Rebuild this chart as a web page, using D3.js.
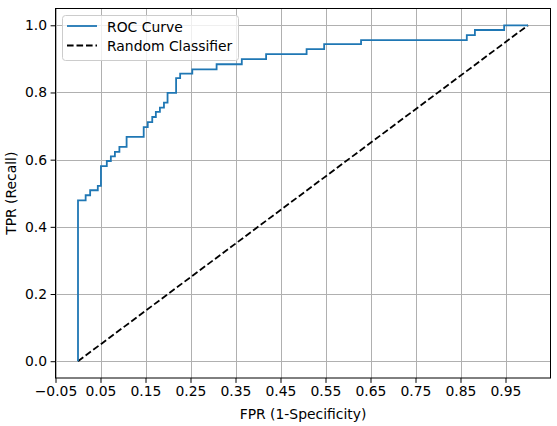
<!DOCTYPE html>
<html><head><meta charset="utf-8">
<script src="https://cdn.jsdelivr.net/npm/d3@7"></script>
<style>
html,body{margin:0;padding:0;background:#fff;}
text{font-family:"DejaVu Sans",sans-serif;}
</style></head>
<body><svg id="c" width="557" height="426"></svg>
<script>
const fpr = [0,0,0.017,0.027,0.044,0.051,0.064,0.073,0.082,0.092,0.108,0.146,0.155,0.165,0.173,0.182,0.191,0.199,0.218,0.227,0.254,0.308,0.364,0.418,0.508,0.547,0.629,0.864,0.882,0.947,1.0];
const tpr = [0,0.479,0.494,0.509,0.522,0.581,0.596,0.610,0.623,0.638,0.668,0.697,0.712,0.727,0.742,0.755,0.770,0.799,0.843,0.856,0.869,0.884,0.899,0.914,0.929,0.944,0.956,0.971,0.986,1.0,1.0];
const randX = [0,1];
const randY = [0,1];
const xTicks = [-0.05,0.05,0.15,0.25,0.35,0.45,0.55,0.65,0.75,0.85,0.95];
const yTicks = [0,0.2,0.4,0.6,0.8,1.0];
const legendLabels = ["ROC Curve","Random Classifier"];

const svg = d3.select("#c");
const L=55.5,R=550.5,T=8.5,B=378;
const x = d3.scaleLinear().domain([-0.05,1.05]).range([L,R]);
const y = d3.scaleLinear().domain([-0.05,1.05]).range([B,T]);
const fs = 13.9;

// grid
const g = svg.append("g");
g.selectAll(".vx").data(xTicks).enter().append("line")
 .attr("x1",d=>Math.round(x(d))+0.5).attr("x2",d=>Math.round(x(d))+0.5).attr("y1",T).attr("y2",B)
 .attr("stroke","#b0b0b0").attr("stroke-width",1);
g.selectAll(".hy").data(yTicks).enter().append("line")
 .attr("y1",d=>Math.round(y(d))+0.5).attr("y2",d=>Math.round(y(d))+0.5).attr("x1",L).attr("x2",R)
 .attr("stroke","#b0b0b0").attr("stroke-width",1);

// random line
const line = d3.line().x(d=>x(d[0])).y(d=>y(d[1]));
svg.append("path").datum(randX.map((v,i)=>[v,randY[i]])).attr("d",line)
 .attr("fill","none").attr("stroke","#000").attr("stroke-width",1.8).attr("stroke-dasharray","6.6,2.9");
// ROC
const step = d3.line().x(d=>x(d[0])).y(d=>y(d[1])).curve(d3.curveStepAfter);
svg.append("path").datum(fpr.map((v,i)=>[v,tpr[i]])).attr("d",step)
 .attr("fill","none").attr("stroke","#1f77b4").attr("stroke-width",1.8);

// frame
svg.append("rect").attr("x",L).attr("y",T).attr("width",R-L).attr("height",B-T)
 .attr("fill","none").attr("stroke","#000").attr("stroke-width",1);

// axes
const xa = svg.append("g").attr("transform",`translate(0,${B})`)
 .call(d3.axisBottom(x).tickValues(xTicks).tickSize(4.9).tickPadding(3.5).tickFormat(d=>d3.format(".2f")(d).replace("-","\u2212")));
const ya = svg.append("g").attr("transform",`translate(${L},0)`)
 .call(d3.axisLeft(y).tickValues(yTicks).tickSize(4.9).tickPadding(3.5).tickFormat(d3.format(".1f")));
[xa,ya].forEach(a=>{a.select(".domain").remove();a.selectAll("text").attr("font-size",fs).attr("fill","#000").style("font-family","DejaVu Sans");a.selectAll("line").attr("stroke","#000");});

svg.append("text").attr("x",(L+R)/2).attr("y",419).attr("text-anchor","middle").attr("font-size",fs).text("FPR (1-Specificity)");
svg.append("text").attr("transform",`translate(16,${(T+B)/2}) rotate(-90)`).attr("text-anchor","middle").attr("font-size",fs).text("TPR (Recall)");

// legend
const lg = svg.append("g");
lg.append("rect").attr("x",62.5).attr("y",15.5).attr("width",176).attr("height",45).attr("rx",3)
 .attr("fill","#fff").attr("fill-opacity",0.8).attr("stroke","#cccccc").attr("stroke-width",1);
const styles=[{c:"#1f77b4",d:null},{c:"#000",d:"6.6,2.9"}];
legendLabels.forEach((t,i)=>{
  const yy = 26 + i*19.5;
  const l = lg.append("line").attr("x1",67).attr("x2",97).attr("y1",yy).attr("y2",yy).attr("stroke",styles[i].c).attr("stroke-width",1.8);
  if(styles[i].d) l.attr("stroke-dasharray",styles[i].d);
  lg.append("text").attr("x",107).attr("y",yy+5.5).attr("font-size",fs).text(t);
});
</script></body></html>
